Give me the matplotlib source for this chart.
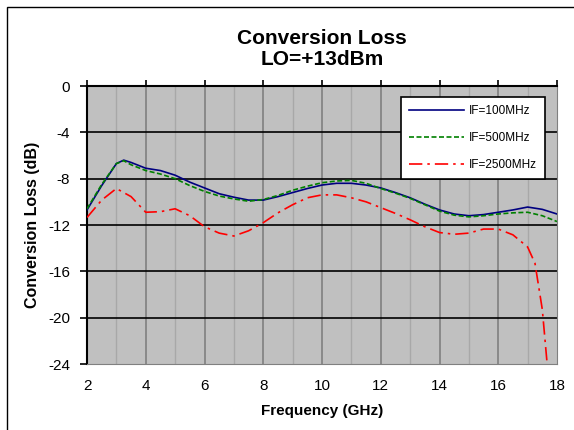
import numpy as np
import matplotlib
matplotlib.use("Agg")
import matplotlib.pyplot as plt
from matplotlib.patches import Rectangle

plt.rcParams['font.family'] = ['Liberation Sans', 'DejaVu Sans']
plt.rcParams['axes.unicode_minus'] = False

# frequency points (GHz)
freq = [2, 2.5, 3, 3.25, 3.5, 4, 4.5, 5, 5.5, 6, 6.5, 7, 7.5, 8, 8.5, 9, 9.5,
        10, 10.5, 11, 11.5, 12, 12.5, 13, 13.5, 14, 14.5, 15, 15.5, 16, 16.5,
        17, 17.5, 18]

# IF=100MHz
loss_100 = [-10.7, -8.6, -6.7, -6.4, -6.6, -7.1, -7.3, -7.7, -8.3, -8.8, -9.3,
            -9.6, -9.85, -9.85, -9.55, -9.2, -8.85, -8.55, -8.4, -8.4, -8.55,
            -8.8, -9.2, -9.65, -10.2, -10.7, -11.05, -11.2, -11.1, -10.9,
            -10.7, -10.45, -10.65, -11.05]

# IF=500MHz
loss_500 = [-10.6, -8.5, -6.7, -6.45, -6.8, -7.3, -7.6, -8.0, -8.6, -9.1,
            -9.5, -9.75, -9.95, -9.8, -9.45, -9.0, -8.65, -8.35, -8.2, -8.15,
            -8.4, -8.85, -9.25, -9.7, -10.25, -10.8, -11.15, -11.3, -11.2,
            -11.05, -10.95, -10.9, -11.2, -11.7]

# IF=2500MHz
freq_2500 = [2, 2.5, 3, 3.5, 4, 4.5, 5, 5.5, 6, 6.5, 7, 7.5, 8, 8.5, 9, 9.5,
             10, 10.5, 11, 11.5, 12, 12.5, 13, 13.5, 14, 14.5, 15, 15.5, 16,
             16.5, 17, 17.25, 17.5, 17.7]
loss_2500 = [-11.35, -9.85, -8.85, -9.55, -10.9, -10.85, -10.6, -11.2, -12.15,
             -12.7, -12.95, -12.5, -11.8, -10.95, -10.25, -9.65, -9.4, -9.4,
             -9.65, -10.0, -10.5, -11.0, -11.55, -12.15, -12.65, -12.8, -12.7,
             -12.35, -12.35, -12.85, -13.9, -15.3, -19.3, -25.0]

fig = plt.figure(figsize=(5.74, 4.3), dpi=100)
fig.patches.append(Rectangle((7/574, -0.1), 1.2, (430-7)/430 + 0.1, transform=fig.transFigure,
                             fill=False, edgecolor='black', linewidth=1.0))

ax = fig.add_axes([87/574, 1-364/430, 470/574, 278/430])
ax.set_facecolor('#C0C0C0')

# grid
for f in range(3, 18, 2):
    ax.axvline(f, color='#A8A8A8', linewidth=1.0, zorder=1)
for f in range(4, 18, 2):
    ax.axvline(f, color='#808080', linewidth=1.2, zorder=1)
for v in range(-20, 0, 4):
    ax.axhline(v, color='black', linewidth=1.2, zorder=1)

ax.plot(freq, loss_100, color='#000080', linewidth=1.2, label='IF=100MHz', zorder=3)
ax.plot(freq, loss_500, color='#008000', linewidth=1.2, linestyle=(0, (3, 1.5)),
        label='IF=500MHz', zorder=3)
ax.plot(freq_2500, loss_2500, color='#FF0000', linewidth=1.2,
        linestyle=(0, (8, 3, 1.5, 3)), label='IF=2500MHz', zorder=3)

ax.set_xlim(2, 18)
ax.set_ylim(-24, 0)
ax.set_xticks(range(2, 19, 2))
ax.set_yticks(range(-24, 1, 4))
ax.tick_params(axis='y', direction='out', length=5, width=1.2, labelsize=11, pad=7)
ax.tick_params(axis='x', which='both', top=True, bottom=False, labeltop=False,
               labelbottom=True, direction='out', length=4, width=1.2,
               labelsize=11, pad=7)

ax.spines['left'].set_color('black')
ax.spines['left'].set_linewidth(1.5)
ax.spines['top'].set_color('black')
ax.spines['top'].set_linewidth(1.5)
ax.spines['right'].set_color('#808080')
ax.spines['bottom'].set_color('#808080')

ax.set_xlabel('Frequency (GHz)', fontsize=11, fontweight='bold', labelpad=8)
ax.set_ylabel('Conversion Loss (dB)', fontsize=11.5, fontweight='bold', labelpad=6)
ax.set_title('Conversion Loss\nLO=+13dBm', fontsize=15, fontweight='bold',
             linespacing=1.12, pad=15)

leg = ax.legend(loc='upper right', bbox_to_anchor=((545-87)/470, (364-97)/278),
                fontsize=8.5, frameon=True, fancybox=False, handlelength=4.66,
                labelspacing=1.25, borderpad=0.7, handletextpad=0.4,
                borderaxespad=0)
leg.get_frame().set_edgecolor('black')
leg.get_frame().set_linewidth(1.2)
leg.get_frame().set_facecolor('white')
leg.get_frame().set_alpha(1)
leg.set_zorder(5)

fig.savefig('out.png', dpi=100)
